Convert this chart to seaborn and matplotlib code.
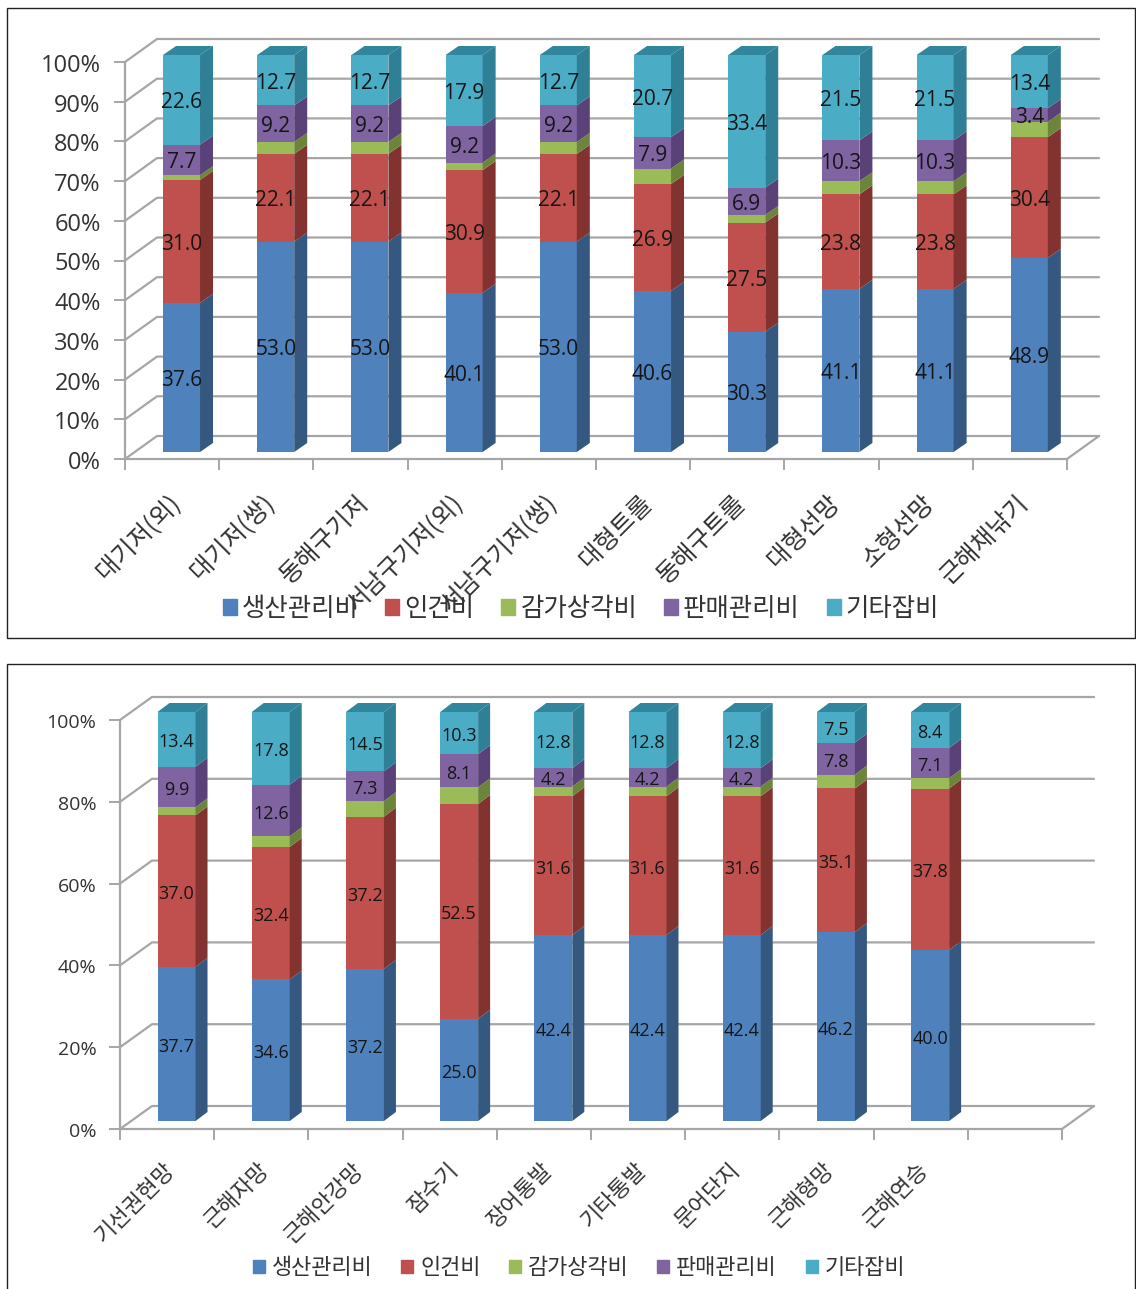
import numpy as np
import pandas as pd
import seaborn as sns
import matplotlib
matplotlib.use("Agg")
import matplotlib.pyplot as plt
from matplotlib.patches import Rectangle, Patch
from matplotlib.transforms import ScaledTranslation

W, H = 1136, 1289
series_names = ['생산관리비', '인건비', '감가상각비', '판매관리비', '기타잡비']
front_colors = ['#4F81BD', '#C0504D', '#9BBB59', '#8064A2', '#4BACC6']
side_colors = ['#34587F', '#82332F', '#6C853A', '#5A4278', '#2F7F96']
top_colors = ['#3F6A9C', '#9A3D3A', '#7F9E44', '#67508A', '#31859C']

top_cats = ['대기저(외)', '대기저(쌍)', '동해구기저', '서남구기저(외)', '서남구기저(쌍)',
            '대형트롤', '동해구트롤', '대형선망', '소형선망', '근해채낚기']
top_prod = [37.6, 53.0, 53.0, 40.1, 53.0, 40.6, 30.3, 41.1, 41.1, 48.9]
top_labor = [31.0, 22.1, 22.1, 30.9, 22.1, 26.9, 27.5, 23.8, 23.8, 30.4]
top_depr = [1.2, 3.0, 3.0, 1.9, 3.0, 3.9, 1.9, 3.3, 3.3, 3.9]
top_sales = [7.7, 9.2, 9.2, 9.2, 9.2, 7.9, 6.9, 10.3, 10.3, 3.4]
top_other = [22.6, 12.7, 12.7, 17.9, 12.7, 20.7, 33.4, 21.5, 21.5, 13.4]

bot_cats = ['기선권현망', '근해자망', '근해안강망', '잠수기', '장어통발',
            '기타통발', '문어단지', '근해형망', '근해연승']
bot_prod = [37.7, 34.6, 37.2, 25.0, 42.4, 42.4, 42.4, 46.2, 40.0]
bot_labor = [37.0, 32.4, 37.2, 52.5, 31.6, 31.6, 31.6, 35.1, 37.8]
bot_depr = [2.0, 2.6, 3.8, 4.1, 2.2, 2.2, 2.2, 3.4, 2.4]
bot_sales = [9.9, 12.6, 7.3, 8.1, 4.2, 4.2, 4.2, 7.8, 7.1]
bot_other = [13.4, 17.8, 14.5, 10.3, 12.8, 12.8, 12.8, 7.5, 8.4]

sns.set_theme(style='white')
plt.rcParams['font.family'] = ['Noto Sans CJK KR', 'DejaVu Sans']
fig = plt.figure(figsize=(W / 100, H / 100), dpi=100, facecolor='white')


def chart(box, cats, rows, ystep, tick_fs, tick_pad, val_fs, cat_fs, cat_pad, cat_shift,
          leg_fs, leg_xy, leg_space, leg_pad):
    x0, x1, y0, y100, bar_w, front_gap, wall, bar_depth = box
    ax = fig.add_axes([x0 / W, 1 - y0 / H, (x1 - x0) / W, (y0 - y100) / H])
    slot = (x1 - x0) / 10
    unit = (y0 - y100) / 100
    xmin, xmax = -0.6, 9.4
    wx, wy = wall[0] / slot, wall[1] / unit
    dx, dy = bar_depth[0] / slot, bar_depth[1] / unit
    gap = front_gap / unit
    w = bar_w / slot
    grid_c = '#A6A6A6'

    raw = np.array(rows, dtype=float)
    pct = raw / raw.sum(axis=0) * 100
    base = np.zeros(raw.shape[1])
    xs = np.arange(raw.shape[1])
    for k, name in enumerate(series_names):
        df = pd.DataFrame({'cat': cats, 'v': pct[k]})
        sns.barplot(data=df, x='cat', y='v', ax=ax, color=front_colors[k], saturation=1,
                    width=w, bottom=base + gap, errorbar=None, linewidth=0, zorder=3)
        for x, b, v in zip(xs, base, pct[k]):
            l, r = x - w / 2, x + w / 2
            ax.fill([r, r + dx, r + dx, r], [b + gap, b + gap + dy, b + v + gap + dy, b + v + gap],
                    color=side_colors[k], lw=0, zorder=3, clip_on=False)
            if k == len(series_names) - 1:
                ax.fill([l, r, r + dx, l + dx], [b + v + gap, b + v + gap, b + v + gap + dy, b + v + gap + dy],
                        color=top_colors[k], lw=0, zorder=3, clip_on=False)
            if k != 2:
                ax.text(x, b + gap + v / 2 - 3 / unit, f'{raw[k][x]:.1f}', ha='center', va='center',
                        fontsize=val_fs, color='#151515', zorder=5, family=['Open Sans', 'DejaVu Sans'])
        base = base + pct[k]
    for p in ax.patches:
        p.set_clip_on(False)

    ticks = np.arange(0, 101, ystep)
    for t in ticks:
        ax.plot([xmin, xmin + wx, xmax + wx], [t, t + wy, t + wy], color=grid_c, lw=1.6,
                zorder=1, clip_on=False, solid_joinstyle='miter')
    ax.plot([xmax, xmax + wx], [0, wy], color=grid_c, lw=1.6, zorder=1, clip_on=False)

    ax.set_xlim(xmin, xmax)
    ax.set_ylim(0, 100)
    ax.set_xlabel('')
    ax.set_ylabel('')
    ax.set_yticks(ticks)
    ax.set_yticklabels([f'{t}%' for t in ticks], fontsize=tick_fs, color='#333333',
                       family=['Open Sans', 'DejaVu Sans'])
    ax.set_xticks(xmin + np.arange(11))
    ax.set_xticklabels([])
    ax.set_xticks(xs, minor=True)
    ax.set_xticklabels(cats, minor=True, rotation=45, ha='right', rotation_mode='anchor',
                       va='top', fontsize=cat_fs, color='#333333')
    ax.tick_params(axis='x', which='major', length=8, width=1.4, color=grid_c, bottom=True)
    ax.tick_params(axis='x', which='minor', length=0, pad=cat_pad)
    ax.tick_params(axis='y', length=8, width=1.4, color=grid_c, left=True, pad=tick_pad)
    shift = ScaledTranslation(cat_shift / 100, 0, fig.dpi_scale_trans)
    for lab in ax.get_xticklabels(minor=True):
        lab.set_transform(lab.get_transform() + shift)
    for lab in ax.get_yticklabels():
        lab.set_transform(lab.get_transform() + ScaledTranslation(0, -1 / 100, fig.dpi_scale_trans))
    for s in ['top', 'right']:
        ax.spines[s].set_visible(False)
    for s in ['left', 'bottom']:
        ax.spines[s].set_color(grid_c)
        ax.spines[s].set_linewidth(1.6)
    ax.patch.set_alpha(0)

    handles = [Patch(color=c, label=n) for c, n in zip(front_colors, series_names)]
    leg = fig.legend(handles=handles, loc='center', ncol=5, frameon=False, fontsize=leg_fs,
                     bbox_to_anchor=(leg_xy[0] / W, 1 - leg_xy[1] / H), handlelength=0.55, handleheight=0.55,
                     handletextpad=leg_pad, columnspacing=leg_space, labelcolor='#333333')
    leg.set_zorder(0)


chart((125, 1067, 459, 62, 37, 7, (32, 23), (13, 9)), top_cats,
      [top_prod, top_labor, top_depr, top_sales, top_other], 10, 17, 9.5, 15, 17.8, 22.5, -14,
      18.3, (581, 609), 1.05, 0.2)
chart((120, 1062, 1129, 720, 38, 8, (32, 23), (12, 9)), bot_cats,
      [bot_prod, bot_labor, bot_depr, bot_sales, bot_other], 20, 14, 9, 13, 16, 21, -13,
      15.8, (579, 1268), 1.3, 0.32)

for (a, b, c, d) in [(7, 8, 1135, 638), (7, 664, 1135, 1300)]:
    fig.add_artist(Rectangle((a / W, 1 - d / H), (c - a) / W, (d - b) / H, transform=fig.transFigure,
                             fill=False, edgecolor='#222222', lw=1.0, clip_on=False))

fig.savefig('out.png', dpi=100, facecolor='white')
